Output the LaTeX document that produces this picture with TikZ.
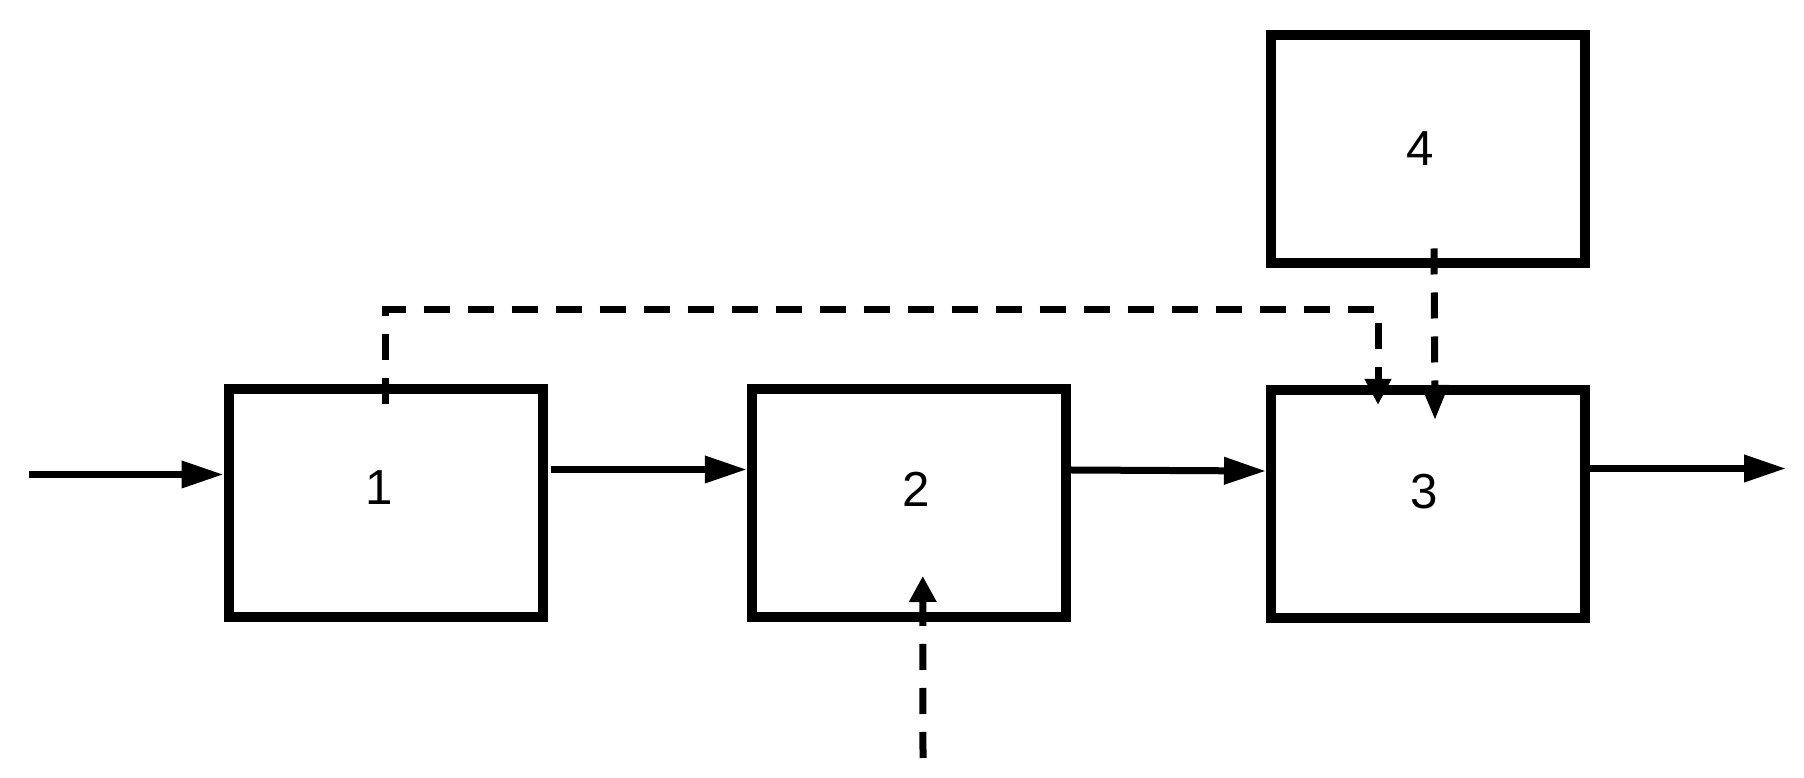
\documentclass[tikz,border=0pt]{standalone}
\usepackage{fontspec}
\setmainfont{Liberation Sans}
\usetikzlibrary{arrows.meta}
\tikzset{   block/.style = {draw, fill=white, line width=0.2cm, rectangle, minimum height=4.56cm, minimum width=6.28cm, inner sep=0pt},
            tag/.style = {inner sep=0pt, font=\fontsize{28}{34}\selectfont},
            flow/.style = {line width=0.14cm, -{Triangle[length=0.84cm, width=0.52cm]}},
            ctrl/.style = {line width=0.14cm, dash pattern=on 0.52cm off 0.36cm}}

\begin{document}
\begin{tikzpicture}
    \useasboundingbox (0,0) rectangle (36.08,15.56);
    \node[block](b1)at(7.71,5.50){};
    \node[block](b2)at(18.175,5.50){};
    \node[block](b3)at(28.56,5.48){};
    \node[block](b4)at(28.56,12.58){};
    \node[tag](t1)at([xshift=-0.12cm, yshift=0.3cm]b1.center){1};
    \node[tag](t2)at([xshift=0.14cm, yshift=0.28cm]b2.center){2};
    \node[tag](t3)at([xshift=-0.08cm, yshift=0.24cm]b3.center){3};
    \node[tag](t4)at([xshift=-0.16cm]b4.center){4};

    \coordinate(in)at(0.58,6.07);
    \coordinate(out)at(35.72,6.19);
    \coordinate(ext)at(18.46,0.40);
    \draw[flow](in)--(in -| b1.west);
    \draw[flow]([xshift=0.06cm, yshift=0.67cm]b1.east)--([yshift=0.67cm]b2.west);
    \draw[flow]([yshift=0.66cm]b2.east)--([yshift=0.66cm]b3.west);
    \draw[flow](b3.east |- out)--(out);

    % dashed control lines
    \draw[ctrl, -{Triangle[length=0.52cm, width=0.5cm]}]([yshift=-0.4cm]b1.north)--++(0,1.88)-|([xshift=-1cm, yshift=-0.4cm]b3.north);
    \draw[ctrl, -{Triangle[length=0.7cm, width=0.52cm]}]([xshift=0.12cm, yshift=0.39cm]b4.south)--([xshift=0.14cm, yshift=-0.7cm]b3.north);
    \draw[ctrl, -{Triangle[length=0.52cm, width=0.52cm]}](ext)--([xshift=0.28cm, yshift=0.92cm]b2.south);
\end{tikzpicture}
\end{document}
